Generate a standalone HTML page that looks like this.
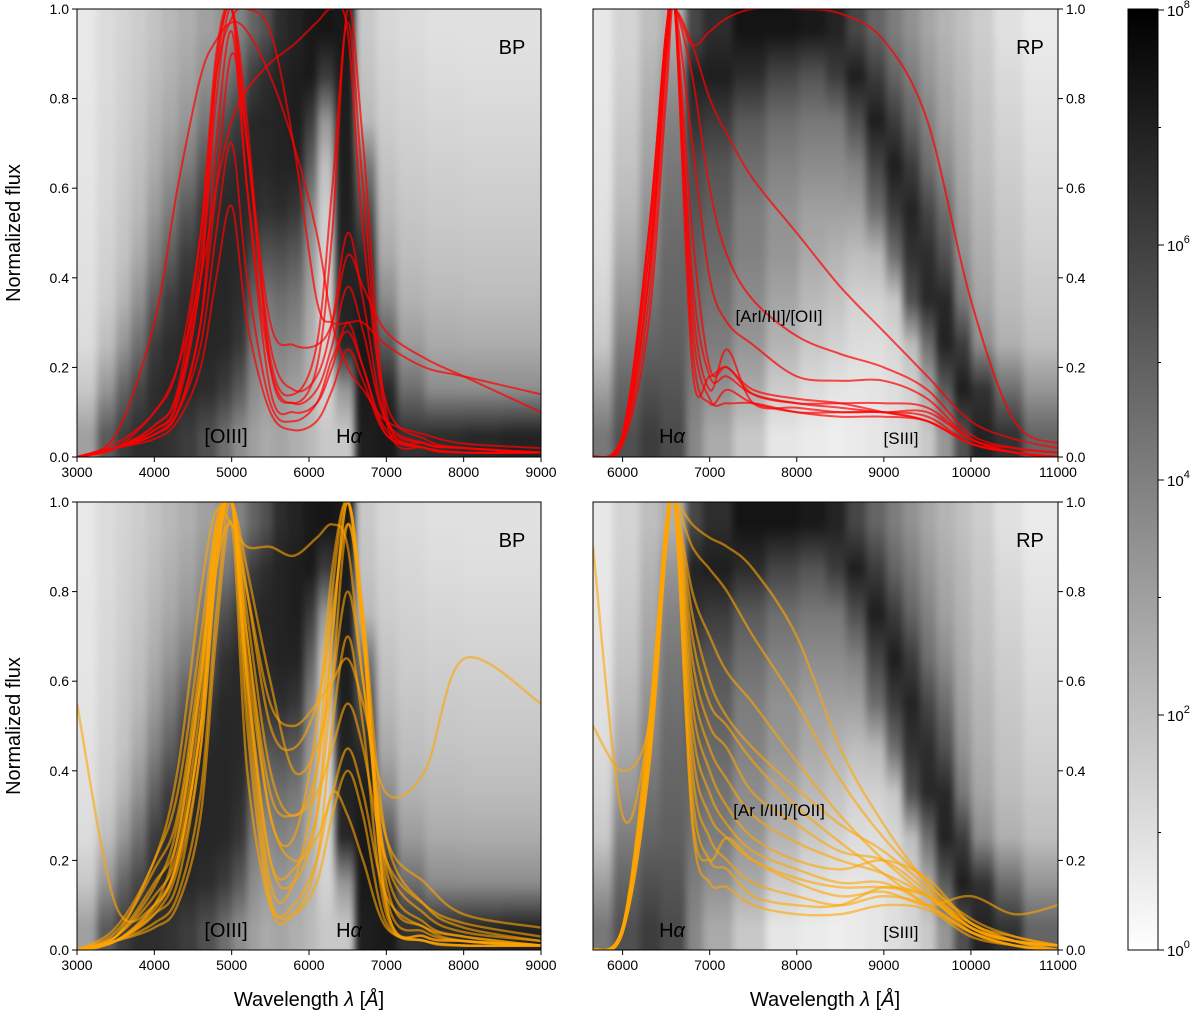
<!DOCTYPE html>
<html><head><meta charset="utf-8">
<style>
html,body{margin:0;padding:0;background:#fff;}
#wrap{position:relative;width:1200px;height:1015px;overflow:hidden;font-family:"Liberation Sans","DejaVu Sans",sans-serif;}
canvas{position:absolute;}
svg{position:absolute;left:0;top:0;}
</style></head>
<body>
<div id="wrap">
<canvas id="hm-tl" style="left:77px;top:9px" width="464" height="448"></canvas>
<canvas id="hm-tr" style="left:593px;top:9px" width="465" height="448"></canvas>
<canvas id="hm-bl" style="left:77px;top:502px" width="464" height="448"></canvas>
<canvas id="hm-br" style="left:593px;top:502px" width="465" height="448"></canvas>
<svg id="svg" width="1200" height="1015" xmlns="http://www.w3.org/2000/svg">
<defs>
<linearGradient id="cbg" x1="0" y1="1" x2="0" y2="0">
<stop offset="0" stop-color="#ffffff"/><stop offset="1" stop-color="#000000"/>
</linearGradient>
<clipPath id="c-tl"><rect x="77" y="9" width="464" height="448"/></clipPath>
<clipPath id="c-tr"><rect x="593" y="9" width="465" height="448"/></clipPath>
<clipPath id="c-bl"><rect x="77" y="502" width="464" height="448"/></clipPath>
<clipPath id="c-br"><rect x="593" y="502" width="465" height="448"/></clipPath>
</defs>
</svg>
</div>
<script>
// ---------- data ----------
const bpHeatEdges = [3000,3260,3500,3700,3900,4100,4300,4550,4810,5000,5200,5370,5540,5730,5930,6100,6340,6600,6860,7140,7500,8000,8500,9000];
const bpHeatCols = [
[232,232,230,230,228,226,224,220,200,160],[220,220,218,216,214,210,205,190,150,90],
[212,210,208,205,200,195,180,150,100,60],[205,202,198,192,185,170,145,110,70,45],
[195,190,182,172,155,130,95,60,45,45],[185,178,168,150,125,95,60,45,40,50],
[175,165,150,125,90,60,45,40,40,60],[160,145,120,85,55,40,38,38,45,80],
[145,120,80,50,40,38,38,40,60,110],[130,100,60,42,40,40,45,55,90,140],
[100,60,40,40,45,70,100,120,140,160],[80,45,38,40,50,85,120,140,155,170],
[45,35,35,35,45,80,110,130,150,165],[35,30,30,35,55,90,120,140,160,175],
[25,25,60,95,130,150,165,175,180,185],[22,60,150,190,205,210,212,212,210,200],
[25,28,30,30,32,35,35,40,150,200],[200,195,185,120,80,45,30,25,25,30],
[215,210,205,195,185,170,140,90,40,25],[220,215,210,205,198,190,178,155,110,50],
[224,220,214,208,202,195,185,170,140,45],[225,222,216,210,204,197,188,172,142,40],
[225,222,216,210,204,197,188,172,142,35]];
const rpHeatEdges = [5660,5890,6200,6430,6730,6925,7270,7650,8030,8340,8570,8800,9030,9220,9410,9600,9800,10000,10260,10600,11000];
const rpHeatCols = [
[232,232,230,228,225,220,212,200,160,120],[212,208,202,195,185,170,150,125,100,80],
[190,180,170,160,145,130,115,100,80,60],[175,150,130,120,112,105,100,95,85,75],
[70,35,50,75,85,95,105,115,125,135],[45,30,60,85,95,105,115,125,145,170],
[20,45,90,110,125,130,140,150,170,200],[20,70,110,130,145,150,165,180,205,230],
[25,85,120,140,160,170,185,200,220,235],[35,60,120,140,160,180,195,210,228,238],
[70,30,80,130,160,190,210,220,230,235],[100,60,30,70,110,185,210,222,228,230],
[125,100,60,30,60,110,200,215,222,222],[145,125,100,60,35,50,80,190,210,215],
[165,150,130,110,70,45,40,110,170,200],[180,170,160,140,110,80,40,35,90,150],
[192,185,178,170,160,145,120,60,30,80],[205,200,195,190,182,175,165,140,50,35],
[225,218,212,206,200,195,188,175,110,50],[235,230,225,220,214,208,200,190,150,100]];

const bpWave = [3000,3500,4000,4300,4600,4800,5000,5200,5500,5800,6100,6300,6500,6700,7000,7500,8000,9000];
const rpWave = [5660,6000,6300,6500,6600,6800,7000,7200,7500,8000,8500,9000,9500,10000,10500,11000];

const bpRed = [
[0,0.02,0.06,0.12,0.4,0.85,1.0,0.6,0.15,0.1,0.12,0.2,0.3,0.2,0.05,0.02,0.01,0.01],
[0,0.02,0.07,0.15,0.5,0.9,1.0,0.7,0.25,0.15,0.18,0.3,0.5,0.35,0.08,0.03,0.02,0.01],
[0,0.02,0.05,0.1,0.3,0.7,0.95,0.6,0.2,0.12,0.2,0.5,1.0,0.7,0.1,0.03,0.02,0.01],
[0,0.05,0.3,0.6,0.85,0.93,0.97,0.95,0.85,0.7,0.5,0.3,0.2,0.15,0.08,0.05,0.03,0.02],
[0,0.03,0.1,0.2,0.4,0.6,0.75,0.82,0.88,0.92,0.97,1.0,0.95,0.5,0.12,0.04,0.02,0.01],
[0,0.02,0.05,0.1,0.3,0.6,0.9,0.7,0.22,0.14,0.25,0.6,0.97,0.6,0.08,0.02,0.01,0.01],
[0,0.02,0.1,0.2,0.5,0.85,0.98,1.0,0.95,0.7,0.35,0.3,0.3,0.3,0.25,0.2,0.18,0.14],
[0,0.02,0.05,0.1,0.25,0.5,0.7,0.4,0.12,0.08,0.12,0.22,0.28,0.2,0.06,0.02,0.01,0.01],
[0,0.02,0.04,0.08,0.2,0.4,0.56,0.3,0.1,0.06,0.08,0.15,0.24,0.17,0.05,0.02,0.01,0.01],
[0,0.02,0.07,0.14,0.4,0.8,1.0,0.7,0.3,0.25,0.25,0.3,0.45,0.38,0.28,0.22,0.18,0.1],
[0,0.02,0.06,0.13,0.45,0.88,1.0,0.75,0.2,0.12,0.15,0.25,0.38,0.28,0.08,0.03,0.02,0.01]];

const rpRed = [
[0,0.05,0.5,0.95,1.0,0.3,0.13,0.12,0.12,0.1,0.09,0.09,0.08,0.03,0.01,0.0],
[0,0.04,0.4,0.9,1.0,0.4,0.18,0.18,0.14,0.12,0.11,0.1,0.1,0.04,0.01,0],
[0,0.03,0.35,0.85,1.0,0.35,0.15,0.24,0.12,0.11,0.1,0.1,0.09,0.03,0.01,0],
[0,0.05,0.5,0.95,1.0,0.92,0.95,0.98,1.0,1.0,0.99,0.93,0.75,0.35,0.08,0.03],
[0,0.05,0.5,0.95,1.0,0.92,0.8,0.72,0.62,0.5,0.38,0.28,0.18,0.08,0.04,0.02],
[0,0.05,0.45,0.95,1.0,0.85,0.6,0.45,0.35,0.27,0.23,0.2,0.15,0.05,0.02,0.01],
[0,0.05,0.45,0.9,1.0,0.7,0.4,0.3,0.25,0.18,0.17,0.17,0.13,0.04,0.02,0.01],
[0,0.04,0.4,0.9,1.0,0.25,0.12,0.15,0.12,0.1,0.1,0.1,0.08,0.03,0.01,0],
[0,0.04,0.4,0.9,1.0,0.2,0.18,0.2,0.14,0.12,0.12,0.12,0.11,0.04,0.01,0],
[0,0.03,0.3,0.8,1.0,0.5,0.2,0.2,0.15,0.13,0.12,0.1,0.08,0.03,0.01,0]];

const bpOrange = [
[0,0.02,0.1,0.2,0.5,0.9,1.0,0.6,0.15,0.15,0.4,0.8,1.0,0.7,0.1,0.03,0.02,0.01],
[0,0.03,0.15,0.25,0.6,0.95,1.0,0.7,0.3,0.25,0.5,0.85,1.0,0.75,0.15,0.05,0.02,0.01],
[0,0.02,0.08,0.15,0.45,0.85,1.0,0.5,0.1,0.08,0.2,0.5,0.7,0.5,0.08,0.02,0.01,0.01],
[0,0.03,0.2,0.35,0.7,0.95,1.0,0.85,0.6,0.4,0.45,0.6,0.8,0.6,0.2,0.08,0.04,0.02],
[0,0.05,0.2,0.4,0.8,0.98,0.95,0.9,0.9,0.88,0.92,0.95,0.9,0.6,0.25,0.15,0.08,0.05],
[0,0.02,0.06,0.12,0.35,0.75,1.0,0.55,0.12,0.08,0.15,0.3,0.4,0.3,0.06,0.02,0.01,0.01],
[0.55,0.1,0.1,0.2,0.5,0.85,0.95,0.8,0.55,0.5,0.55,0.6,0.65,0.55,0.35,0.4,0.65,0.55],
[0,0.02,0.1,0.25,0.6,0.9,1.0,0.65,0.3,0.2,0.25,0.35,0.45,0.35,0.12,0.05,0.03,0.01],
[0,0.03,0.12,0.22,0.55,0.9,1.0,0.7,0.35,0.3,0.35,0.45,0.55,0.45,0.2,0.1,0.06,0.03],
[0,0.02,0.08,0.18,0.45,0.85,1.0,0.6,0.2,0.18,0.3,0.6,0.95,0.7,0.12,0.04,0.02,0.01],
[0,0.02,0.05,0.1,0.3,0.7,0.95,0.4,0.1,0.1,0.2,0.35,0.3,0.2,0.05,0.02,0.01,0.01],
[0,0.04,0.18,0.3,0.65,0.93,1.0,0.8,0.5,0.45,0.55,0.75,0.95,0.75,0.25,0.1,0.05,0.02],
[0,0.02,0.09,0.2,0.5,0.88,1.0,0.62,0.2,0.15,0.3,0.7,1.0,0.72,0.1,0.03,0.02,0.01],
[0,0.03,0.14,0.28,0.62,0.92,1.0,0.75,0.4,0.3,0.4,0.7,1.0,0.72,0.18,0.06,0.03,0.01]];

const rpOrange = [
[0,0.05,0.45,0.9,1.0,0.4,0.25,0.2,0.15,0.12,0.1,0.12,0.1,0.04,0.01,0],
[0,0.05,0.45,0.9,1.0,0.5,0.35,0.28,0.22,0.18,0.15,0.15,0.1,0.04,0.01,0],
[0,0.05,0.45,0.9,1.0,0.6,0.45,0.38,0.3,0.24,0.2,0.17,0.12,0.05,0.02,0],
[0,0.05,0.45,0.95,1.0,0.7,0.55,0.5,0.42,0.32,0.24,0.17,0.1,0.04,0.02,0.01],
[0,0.05,0.5,0.95,1.0,0.8,0.7,0.62,0.55,0.42,0.3,0.2,0.12,0.05,0.02,0.01],
[0,0.05,0.5,0.95,1.0,0.9,0.85,0.8,0.7,0.55,0.38,0.25,0.15,0.06,0.02,0.01],
[0.9,0.3,0.5,0.95,1.0,0.95,0.92,0.9,0.85,0.7,0.45,0.28,0.15,0.07,0.03,0.01],
[0,0.04,0.4,0.9,1.0,0.35,0.2,0.18,0.12,0.1,0.1,0.14,0.12,0.04,0.01,0],
[0,0.04,0.4,0.9,1.0,0.45,0.3,0.25,0.2,0.16,0.14,0.14,0.12,0.06,0.02,0],
[0,0.05,0.45,0.9,1.0,0.55,0.4,0.32,0.25,0.2,0.18,0.2,0.16,0.06,0.03,0.01],
[0,0.04,0.4,0.9,1.0,0.3,0.2,0.25,0.2,0.15,0.12,0.13,0.1,0.12,0.08,0.1],
[0.5,0.4,0.5,0.92,1.0,0.65,0.5,0.45,0.35,0.28,0.22,0.2,0.13,0.05,0.02,0.01],
[0,0.04,0.42,0.9,1.0,0.28,0.15,0.14,0.1,0.08,0.08,0.1,0.09,0.03,0.01,0],
[0,0.05,0.45,0.92,1.0,0.75,0.6,0.52,0.45,0.36,0.28,0.22,0.14,0.05,0.02,0.01]];

const yTicks = [0.0,0.2,0.4,0.6,0.8,1.0];
const bpXTicks = [3000,4000,5000,6000,7000,8000,9000];
const rpXTicks = [6000,7000,8000,9000,10000,11000];
const cbarExps = [0,2,4,6,8];

// ---------- helpers ----------
const NS = "http://www.w3.org/2000/svg";
const svg = document.getElementById('svg');
function el(tag, attrs, parent){const e=document.createElementNS(NS,tag);for(const k in attrs)e.setAttribute(k,attrs[k]);(parent||svg).appendChild(e);return e;}

const panels = {
  tl:{x0:77,x1:541,y0:457,y1:9,w0:3000,w1:9000},
  tr:{x0:593,x1:1058,y0:457,y1:9,w0:5660,w1:11000},
  bl:{x0:77,x1:541,y0:950,y1:502,w0:3000,w1:9000},
  br:{x0:593,x1:1058,y0:950,y1:502,w0:5660,w1:11000}
};
function xs(p,w){return p.x0+(w-p.w0)/(p.w1-p.w0)*(p.x1-p.x0);}
function ys(p,v){return p.y0+v*(p.y1-p.y0);}

function drawHeat(id, key, edges, cols){
  const p=panels[key];
  const c=document.getElementById(id), ctx=c.getContext('2d');
  const pad=16;
  const off=document.createElement('canvas');
  off.width=c.width+2*pad; off.height=c.height+2*pad;
  const o=off.getContext('2d');
  for(let i=0;i<cols.length;i++){
    let xa=Math.round(xs(p,edges[i])-p.x0)+pad, xb=Math.round(xs(p,edges[i+1])-p.x0)+pad;
    if(i===0)xa=0;
    if(i===cols.length-1)xb=off.width;
    const g=o.createLinearGradient(0,pad,0,pad+c.height);
    const n=cols[i].length;
    cols[i].forEach((v,j)=>{g.addColorStop((j+0.5)/n,`rgb(${v},${v},${v})`);});
    o.fillStyle=g;
    o.fillRect(xa,0,xb-xa+1,off.height);
  }
  ctx.filter='blur(3px)';
  ctx.drawImage(off,-pad,-pad);
  ctx.filter='none';
}
drawHeat('hm-tl','tl',bpHeatEdges,bpHeatCols);drawHeat('hm-tr','tr',rpHeatEdges,rpHeatCols);
drawHeat('hm-bl','bl',bpHeatEdges,bpHeatCols);drawHeat('hm-br','br',rpHeatEdges,rpHeatCols);

function smoothPath(pts){
  let d=`M${pts[0][0].toFixed(1)},${pts[0][1].toFixed(1)}`;
  for(let i=0;i<pts.length-1;i++){
    const p0=pts[Math.max(0,i-1)],p1=pts[i],p2=pts[i+1],p3=pts[Math.min(pts.length-1,i+2)];
    const c1=[p1[0]+(p2[0]-p0[0])/6,p1[1]+(p2[1]-p0[1])/6];
    const c2=[p2[0]-(p3[0]-p1[0])/6,p2[1]-(p3[1]-p1[1])/6];
    d+=` C${c1[0].toFixed(1)},${c1[1].toFixed(1)} ${c2[0].toFixed(1)},${c2[1].toFixed(1)} ${p2[0].toFixed(1)},${p2[1].toFixed(1)}`;
  }
  return d;
}
function drawCurves(key, waves, series, color, op, width, name){
  const p=panels[key];
  const g=el('g',{'clip-path':`url(#c-${key})`});
  
  
  series.forEach((s,i)=>{
    const pts=s.map((v,j)=>[xs(p,waves[j]),ys(p,v)]);
    const path=el('path',{d:smoothPath(pts),fill:'none',stroke:color,'stroke-opacity':op,'stroke-width':width,'stroke-linejoin':'round'},g);
    
    
  });
}
drawCurves('tl',bpWave,bpRed,'#ff0000',0.7,2,'bp-red-spectrum');
drawCurves('tr',rpWave,rpRed,'#ff0000',0.7,2,'rp-red-spectrum');
drawCurves('bl',bpWave,bpOrange,'#ffa500',0.6,2.4,'bp-orange-spectrum');
drawCurves('br',rpWave,rpOrange,'#ffa500',0.6,2.4,'rp-orange-spectrum');

function axes(key, xticks, ylabSide){
  const p=panels[key];
  const fr=el('rect',{x:p.x0,y:p.y1,width:p.x1-p.x0,height:p.y0-p.y1,fill:'none',stroke:'#000','stroke-width':1});
  
  
  xticks.forEach(t=>{
    const x=xs(p,t);
    el('line',{x1:x,x2:x,y1:p.y0,y2:p.y0+5,stroke:'#000'});
    const tx=el('text',{x:x,y:p.y0+20,'font-size':14,'text-anchor':'middle',fill:'#000'});
    tx.textContent=t;
    
    
  });
  yTicks.forEach(t=>{
    const y=ys(p,t);
    if(ylabSide==='left'){
      el('line',{x1:p.x0-5,x2:p.x0,y1:y,y2:y,stroke:'#000'});
      const tx=el('text',{x:p.x0-8,y:y+5,'font-size':14,'text-anchor':'end'});
      tx.textContent=t.toFixed(1);
      
      
    } else {
      el('line',{x1:p.x1,x2:p.x1+5,y1:y,y2:y,stroke:'#000'});
      const tx=el('text',{x:p.x1+8,y:y+5,'font-size':14,'text-anchor':'start'});
      tx.textContent=t.toFixed(1);
      
      
    }
  });
}
axes('tl',bpXTicks,'left');axes('tr',rpXTicks,'right');
axes('bl',bpXTicks,'left');axes('br',rpXTicks,'right');

function label(x,y,txt,size,name,anchor){
  const t=el('text',{x:x,y:y,'font-size':size,'text-anchor':anchor||'middle',fill:'#000'});
  t.textContent=txt;
  
  
  return t;
}
function halpha(x,y,name){
  const t=el('text',{x:x,y:y,'font-size':20,'text-anchor':'middle'});
  t.innerHTML='H<tspan font-style="italic">α</tspan>';
  
  
}
label(512,54,'BP',20,'bp-label-top');label(1030,54,'RP',20,'rp-label-top');
label(512,547,'BP',20,'bp-label-bottom');label(1030,547,'RP',20,'rp-label-bottom');
label(226,443,'[OIII]',20,'oiii-label-top');halpha(349,443,'halpha-label-bp-top');
label(226,937,'[OIII]',20,'oiii-label-bottom');halpha(349,937,'halpha-label-bp-bottom');
halpha(672,443,'halpha-label-rp-top');halpha(672,937,'halpha-label-rp-bottom');
label(779,322,'[ArI/III]/[OII]',17,'ariii-label-top');
label(779,816,'[Ar I/III]/[OII]',17,'ariii-label-bottom');
label(901,444,'[SIII]',17,'siii-label-top');label(901,938,'[SIII]',17,'siii-label-bottom');

function ylab(y,name){
  const t=el('text',{x:0,y:0,'font-size':20,'text-anchor':'middle',transform:`translate(20,${y}) rotate(-90)`});
  t.textContent='Normalized flux';
  
  
}
ylab(233,'y-axis-title-top');ylab(726,'y-axis-title-bottom');
function xlab(x,name){
  const t=el('text',{x:x,y:1006,'font-size':20,'text-anchor':'middle'});
  t.innerHTML='Wavelength <tspan font-style="italic">λ</tspan> [<tspan font-style="italic">Å</tspan>]';
  
  
}
xlab(309,'x-axis-title-bp');xlab(825,'x-axis-title-rp');

// colorbar
const cb=el('rect',{x:1128,y:9,width:30,height:941,fill:'url(#cbg)',stroke:'#000','stroke-width':1});


const cbY=e=>950-e*117.5;
cbarExps.forEach(e=>{
  const y=cbY(e);
  el('line',{x1:1158,x2:1164,y1:y,y2:y,stroke:'#000'});
  const t=el('text',{x:1167,y:y+6,'font-size':15});
  t.innerHTML=`10<tspan font-size="11" dy="-8">${e}</tspan>`;
  
  
});
for(let e=1;e<8;e+=2){const y=cbY(e);el('line',{x1:1158,x2:1161,y1:y,y2:y,stroke:'#000'});}
</script>
</body></html>
